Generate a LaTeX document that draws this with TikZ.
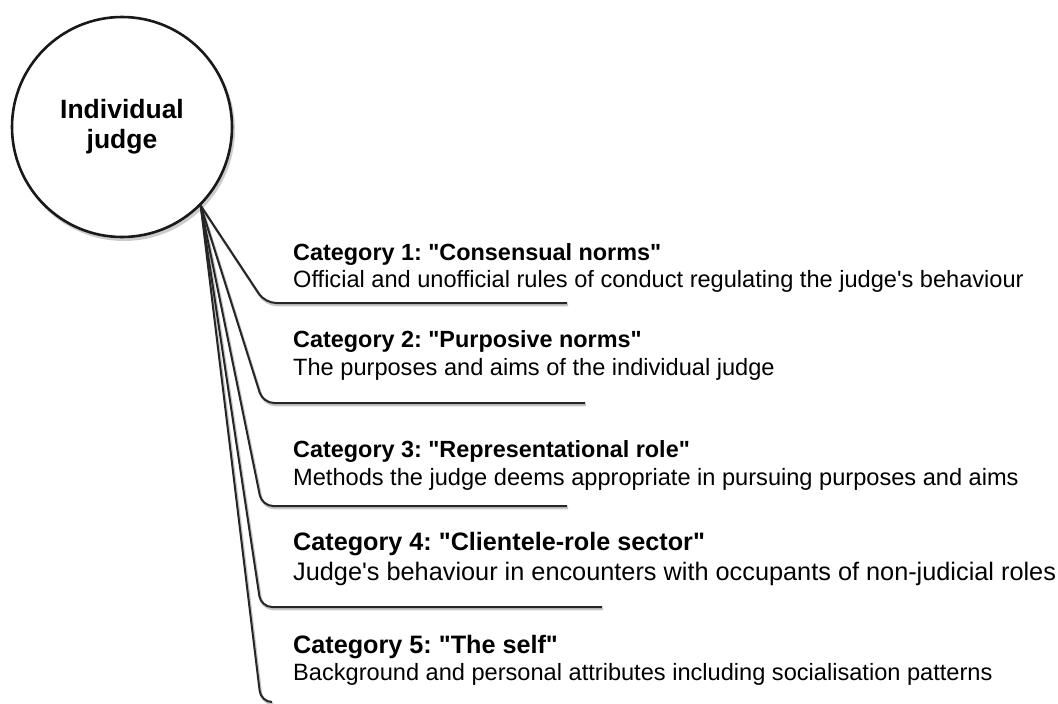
\documentclass[tikz,border=0pt]{standalone}
\usepackage{fontspec}
% a family without TeX ligature mapping, so " and ' stay straight
\newfontfamily\lsans{Liberation Sans}
\begin{document}
\frenchspacing
\begin{tikzpicture}[x=1pt,y=-1pt,
  conn/.style={line width=2pt, draw=black!85, rounded corners=11pt},
  connshade/.style={line width=2.6pt, draw=black!22, rounded corners=11pt},
  cattitle/.style={anchor=base west, inner sep=0pt, font=\lsans\bfseries\fontsize{23.4}{26}\selectfont},
  catdesc/.style={anchor=base west, inner sep=0pt, font=\lsans\fontsize{23.6}{26}\selectfont},
  bigtitle/.style={cattitle, font=\lsans\bfseries\fontsize{25.2}{28}\selectfont},
  bigdesc/.style={catdesc, font=\lsans\fontsize{25.3}{28}\selectfont},
  judge/.style={circle, draw=black!90, line width=2.6pt, fill=white, minimum size=220pt,
    inner sep=0pt, align=center, font=\lsans\bfseries\fontsize{26.5}{30}\selectfont}]
\useasboundingbox (0,0) rectangle (1058,704);

% central circle with a soft offset shade
\fill[black!20] (124,130) circle (111);
\node[judge] (J) at (122,127) {Individual\\judge};
\coordinate (O) at (J.-45);

% bends and ends of the five leader lines
\coordinate (b1) at (265,303); \coordinate (e1) at (567,303);
\coordinate (b2) at (263,403); \coordinate (e2) at (585,403);
\coordinate (b3) at (262,506); \coordinate (e3) at (567,506);
\coordinate (b4) at (261,607); \coordinate (e4) at (602,607);
\coordinate (b5) at (261,702); \coordinate (e5) at (272,702);

% shade under each leader line
\foreach \i in {1,...,5}
  \draw[connshade, transform canvas={shift={(1.2pt,-2pt)}}] (O) -- (b\i) -- (e\i);
% leader lines
\foreach \i in {1,...,5}
  \draw[conn] (O) -- (b\i) -- (e\i);

% category texts
\node[cattitle] (t1) at (293,260) {Category 1: "Consensual norms"};
\node[catdesc]  (d1) at (293,287) {Official and unofficial rules of conduct regulating the judge's behaviour};
\node[cattitle] (t2) at (293,347) {Category 2: "Purposive norms"};
\node[catdesc]  (d2) at (293,375) {The purposes and aims of the individual judge};
\node[cattitle] (t3) at (293,457) {Category 3: "Representational role"};
\node[catdesc]  (d3) at (293,485) {Methods the judge deems appropriate in pursuing purposes and aims};
\node[bigtitle] (t4) at (293,550) {Category 4: "Clientele-role sector"};
\node[bigdesc]  (d4) at (293,580) {Judge's behaviour in encounters with occupants of non-judicial roles};
\node[bigtitle] (t5) at (293,653) {Category 5: "The self"};
\node[catdesc]  (d5) at (293,680) {Background and personal attributes including socialisation patterns};
\end{tikzpicture}
\end{document}
